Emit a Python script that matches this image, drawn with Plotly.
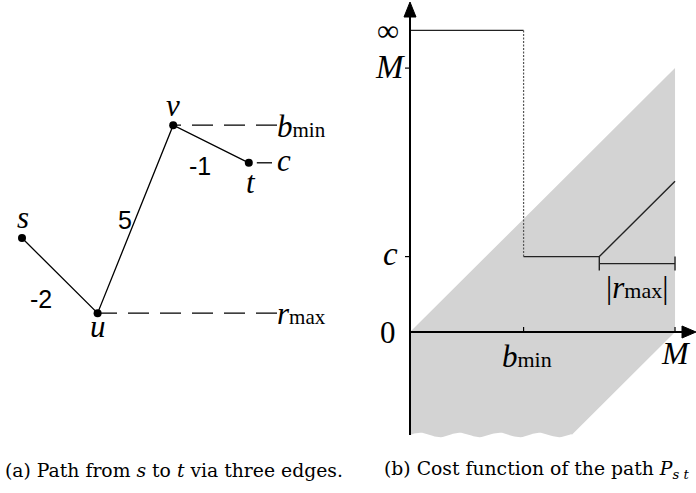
import itertools
import numpy as np
import plotly.graph_objects as go

# ---------------- data ----------------
# (a) path s -> u -> v -> t and its edge weights
node_names = ["s", "u", "v", "t"]
edge_weights = [-2, 5, -1]
edge_labels = ["-2", "5", "-1"]

# (b) cost function of the path
M = 7            # upper bound of the charge range
b_min = 3        # minimal charge needed to traverse the path
c = 2            # cost of the path (level at t)
r_max = -2       # largest drop below the start level
inf_level = 8    # where "infinity" is drawn on the y axis
band_bottom = -2.73   # cut-off of the grey feasibility band

# ---------------- derived values ----------------
node_x = list(range(len(node_names)))
node_y = list(itertools.accumulate([0] + edge_weights))
v_idx, u_idx, t_idx = 2, 1, 3

W, H = 696, 493
FONT = "Liberation Serif"
CAPTION_FONT = "DejaVu Serif"
SANS = "Liberation Sans"
INK = "black"

# pixel anchors of the two coordinate systems (origin px, px per unit)
LX0, LSX, LY0, LSY = 22, 75.6, 238, 37.6
RX0, RSX, RY0, RSY = 410, 37.86, 332, 37.7


def sub(base, idx, size):
    """Italic symbol with an upright, smaller index."""
    return (f"<i>{base}</i><span style='font-size:{size}px'>{idx}</span>")


fig = go.Figure()


def L(**kw):
    kw.setdefault("xaxis", "x")
    kw.setdefault("yaxis", "y")
    kw.setdefault("showlegend", False)
    kw.setdefault("hoverinfo", "skip")
    return go.Scatter(**kw)


def R(**kw):
    kw.setdefault("xaxis", "x2")
    kw.setdefault("yaxis", "y2")
    kw.setdefault("showlegend", False)
    kw.setdefault("hoverinfo", "skip")
    return go.Scatter(**kw)


# ---------- panel (a) ----------
label_x = (277 - LX0) / LSX   # where the guide lines end and labels start
fig.add_trace(L(x=[label_x, node_x[v_idx]], y=[node_y[v_idx]] * 2, mode="lines",
                line=dict(color=INK, width=1.3, dash="21px,11px")))
fig.add_trace(L(x=[label_x, node_x[u_idx]], y=[node_y[u_idx]] * 2, mode="lines",
                line=dict(color=INK, width=1.3, dash="21px,11px")))
fig.add_trace(L(x=[node_x[t_idx] + 8 / LSX, (272 - LX0) / LSX], y=[node_y[t_idx]] * 2,
                mode="lines", line=dict(color=INK, width=1.3)))
fig.add_trace(L(x=node_x, y=node_y, mode="lines+markers",
                line=dict(color=INK, width=1.3),
                marker=dict(color=INK, size=8)))

# node names
name_shift = {"s": (1, 21), "u": (0, -13), "v": (0, 20), "t": (2, -20)}
for name, xx, yy in zip(node_names, node_x, node_y):
    dx, dy = name_shift[name]
    fig.add_annotation(x=xx, y=yy, xref="x", yref="y", text=f"<i>{name}</i>",
                       showarrow=False, xshift=dx, yshift=dy,
                       font=dict(family=FONT, size=31, color=INK))

# edge weights
w_shift = [(-19, -23), (-10, -1), (-11, -22)]
for k, (lab, (dx, dy)) in enumerate(zip(edge_labels, w_shift)):
    mx = (node_x[k] + node_x[k + 1]) / 2
    my = (node_y[k] + node_y[k + 1]) / 2
    fig.add_annotation(x=mx, y=my, xref="x", yref="y", text=lab, showarrow=False,
                       xshift=dx, yshift=dy,
                       font=dict(family=SANS, size=25, color=INK))

# guide labels
for yy, txt, dy in [(node_y[v_idx], sub("b", "min", 21), -1),
                    (node_y[u_idx], sub("r", "max", 21), 0),
                    (node_y[t_idx], "<i>c</i>", 2)]:
    fig.add_annotation(x=label_x, y=yy, xref="x", yref="y", text=txt, showarrow=False,
                       xanchor="left", xshift=-2, yshift=dy,
                       font=dict(family=FONT, size=31, color=INK))

# ---------- panel (b) ----------
# grey band between the diagonal and the lower cut-off, bottom edge torn
wave_x = np.linspace(M + band_bottom, 0, 80)
wave_y = band_bottom + 0.06 * np.sin(2 * np.pi * wave_x / 1.05)
band_x = [0, M, M, M + band_bottom] + list(wave_x) + [0]
band_y = [0, M, 0, band_bottom] + list(wave_y) + [0]
fig.add_trace(R(x=band_x, y=band_y, mode="lines", fill="toself",
                fillcolor="#d3d3d3", line=dict(width=0, color="#d3d3d3")))

# cost function
bend = M - abs(r_max)
fig.add_trace(R(x=[0, b_min], y=[inf_level, inf_level], mode="lines",
                line=dict(color="#222", width=1.4)))
fig.add_trace(R(x=[b_min, b_min], y=[inf_level, c], mode="lines",
                line=dict(color="#555", width=1.2, dash="2px,1.5px")))
fig.add_trace(R(x=[b_min, bend, M], y=[c, c, c + abs(r_max)], mode="lines",
                line=dict(color="#222", width=1.4)))

# |r_max| bracket
br_y = c - 7 / RSY
tick_h = 7 / RSY
fig.add_trace(R(x=[bend, M], y=[br_y, br_y], mode="lines", line=dict(color="#222", width=1.4)))
for xx in (bend, M):
    fig.add_trace(R(x=[xx, xx], y=[br_y - tick_h, br_y + tick_h], mode="lines",
                    line=dict(color="#222", width=1.4)))

# axes
y_top = (RY0 - 2) / RSY
x_right = (W - RX0) / RSX
fig.add_trace(R(x=[0, 0], y=[band_bottom, y_top - 10 / RSY], mode="lines",
                line=dict(color=INK, width=2)))
fig.add_trace(R(x=[0, x_right - 10 / RSX], y=[0, 0], mode="lines",
                line=dict(color=INK, width=2)))
# arrow heads
fig.add_trace(R(x=[0, -6 / RSX, 6 / RSX, 0], y=[y_top, y_top - 15 / RSY, y_top - 15 / RSY, y_top],
                mode="lines", fill="toself", fillcolor=INK, line=dict(color=INK, width=1)))
fig.add_trace(R(x=[x_right, x_right - 14 / RSX, x_right - 14 / RSX, x_right],
                y=[0, 6 / RSY, -6 / RSY, 0],
                mode="lines", fill="toself", fillcolor=INK, line=dict(color=INK, width=1)))

# ticks
for yy in (M, c):
    fig.add_trace(R(x=[-5 / RSX, 0], y=[yy, yy], mode="lines", line=dict(color=INK, width=1.2)))
for xx in (b_min, M):
    fig.add_trace(R(x=[xx, xx], y=[0, 5 / RSY], mode="lines", line=dict(color=INK, width=1.2)))

# tick labels
ylabels = [(inf_level, "∞", -9, 0, 31), (M, "<i>M</i>", -3, 1, 33),
           (c, "<i>c</i>", -10, 3, 33), (0, "0", -12, 0, 31)]
for yy, txt, dx, dy, fs in ylabels:
    fig.add_annotation(x=0, y=yy, xref="x2", yref="y2", text=txt, showarrow=False,
                       xanchor="right", xshift=dx, yshift=dy,
                       font=dict(family=FONT, size=fs, color=INK))
fig.add_annotation(x=b_min, y=0, xref="x2", yref="y2", text=sub("b", "min", 22),
                   showarrow=False, yanchor="top", xshift=3, yshift=-5,
                   font=dict(family=FONT, size=31, color=INK))
fig.add_annotation(x=M, y=0, xref="x2", yref="y2", text="<i>M</i>",
                   showarrow=False, yanchor="top", xshift=1, yshift=-1,
                   font=dict(family=FONT, size=32, color=INK))
fig.add_annotation(x=(bend + M) / 2, y=br_y, xref="x2", yref="y2",
                   text="|" + sub("r", "max", 22) + "|", showarrow=False, yanchor="middle",
                   yshift=-24, font=dict(family=FONT, size=31, color=INK))

# captions
cap_y = 1 - 470 / H
fig.add_annotation(x=3 / W, y=cap_y, xref="paper", yref="paper", xanchor="left",
                   yanchor="middle",
                   text="(a) Path from <i>s</i> to <i>t</i> via three edges.",
                   showarrow=False, font=dict(family=CAPTION_FONT, size=18.8, color=INK))
fig.add_annotation(x=382 / W, y=cap_y, xref="paper", yref="paper", xanchor="left",
                   yanchor="middle",
                   text="(b) Cost function of the path <i>P</i><sub><i>s t</i></sub>",
                   showarrow=False, font=dict(family=CAPTION_FONT, size=18.8, color=INK))

hidden = dict(visible=False, showgrid=False, zeroline=False, fixedrange=True)
fig.update_layout(
    width=W, height=H,
    margin=dict(l=0, r=0, t=0, b=0),
    paper_bgcolor="white", plot_bgcolor="white",
    showlegend=False,
    xaxis=dict(hidden, domain=[0, 1], range=[-LX0 / LSX, (W - LX0) / LSX]),
    yaxis=dict(hidden, domain=[0, 1], range=[-(H - LY0) / LSY, LY0 / LSY]),
    xaxis2=dict(hidden, domain=[0, 1], anchor="y2", overlaying="x",
                range=[-RX0 / RSX, (W - RX0) / RSX]),
    yaxis2=dict(hidden, domain=[0, 1], anchor="x2", overlaying="y",
                range=[-(H - RY0) / RSY, RY0 / RSY]),
)

fig.write_html("out.html")
